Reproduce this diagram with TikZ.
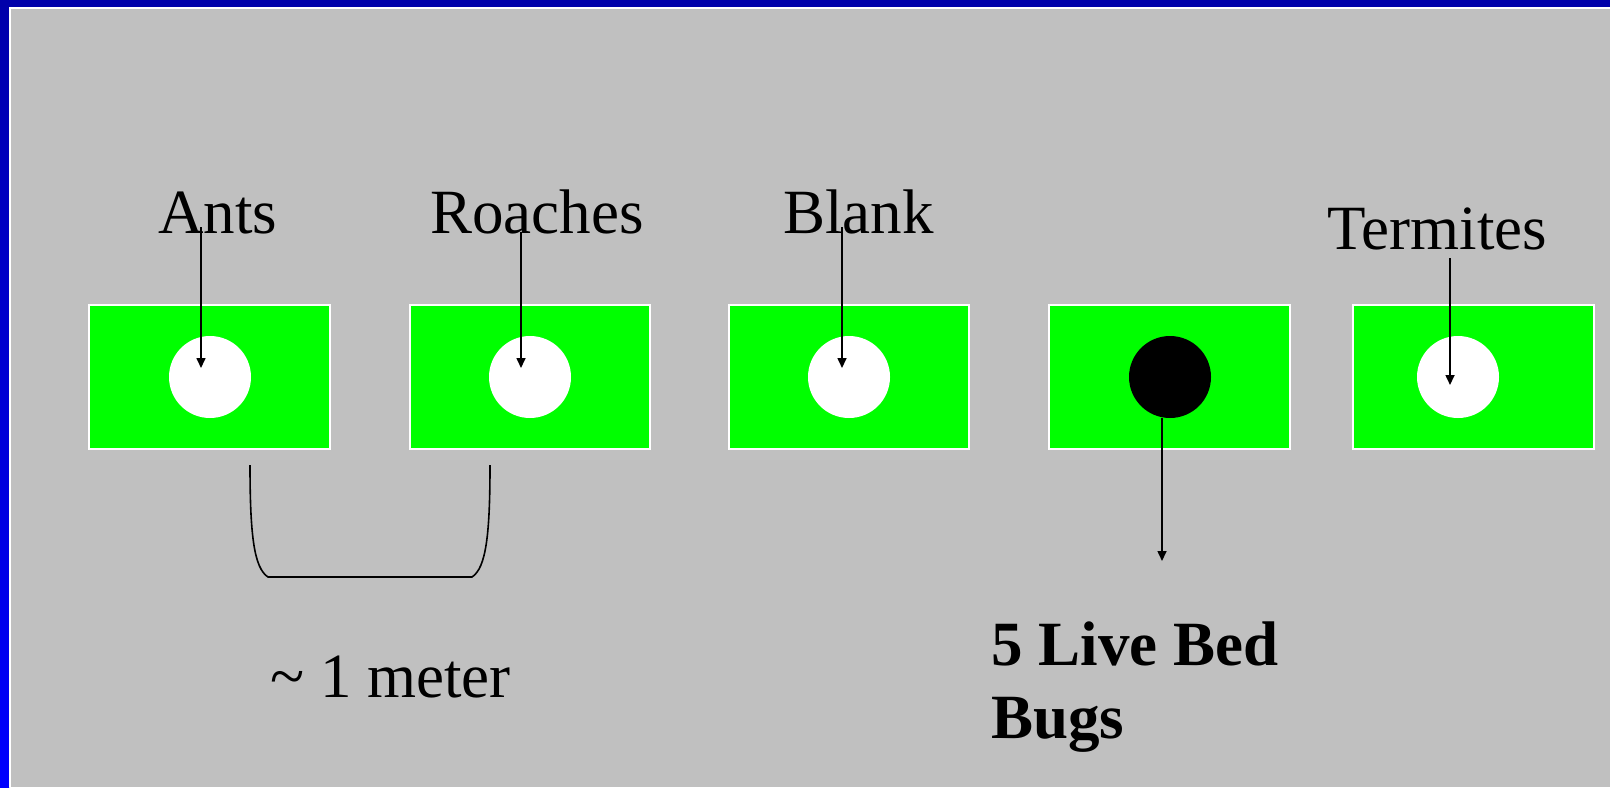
\documentclass[tikz,border=0pt]{standalone}
\usepackage{fontspec}
\setmainfont{Liberation Serif}
\usetikzlibrary{arrows.meta}
\definecolor{bggray}{HTML}{C0C0C0}
\definecolor{darkblue}{HTML}{0000AA}
\definecolor{brightblue}{HTML}{0000FF}
\definecolor{boxgreen}{HTML}{00FF00}
\tikzset{
  dish/.style={draw=white, line width=0.6pt, fill=boxgreen},
  hole/.style={circle, fill=white, minimum size=41pt, inner sep=0pt},
  bughole/.style={circle, fill=black, minimum size=41pt, inner sep=0pt},
  lbl/.style={anchor=base west, inner sep=0pt, font=\fontsize{31.5}{36.5}\selectfont},
  boldlbl/.style={lbl, font=\fontsize{31.5}{36.5}\selectfont\bfseries},
  pointer/.style={line width=0.8pt, -{Triangle[length=5pt,width=4.5pt]}},
  brace/.style={line width=0.8pt}
}
\begin{document}
\begin{tikzpicture}[x=0.5pt,y=-0.5pt]
\useasboundingbox (0,0) rectangle (1610,787);
% background and frame
\fill[bggray] (0,0) rectangle (1610,787);
\shade[top color=darkblue, bottom color=brightblue] (0,0) rectangle (9,787);
\fill[darkblue] (0,0) rectangle (1610,7);
\fill[white] (9,7) rectangle (1610,9);
\fill[white] (9,7) rectangle (11,787);
% dishes
\draw[dish] (89,305) rectangle (330,449);
\draw[dish] (410,305) rectangle (650,449);
\draw[dish] (729,305) rectangle (969,449);
\draw[dish] (1049,305) rectangle (1290,449);
\draw[dish] (1353,305) rectangle (1594,449);
\node[hole] (c1) at (210,377) {};
\node[hole] (c2) at (530,377) {};
\node[hole] (c3) at (849,377) {};
\node[bughole] (c4) at (1170,377) {};
\node[hole] (c5) at (1458,377) {};
% labels
\node[lbl] (ants) at (158,233) {Ants};
\node[lbl] (roaches) at (430,233) {Roaches};
\node[lbl] (blank) at (783,233) {Blank};
\node[lbl] (termites) at (1327,249) {Termites};
\node[lbl] (meter) at (270,697) {\textasciitilde{} 1 meter};
\node[boldlbl] (bugs1) at (991,665) {5 Live Bed};
\node[boldlbl] (bugs2) at (991,738) {Bugs};
% arrow end points
\coordinate (a1s) at (201,227); \coordinate (a1e) at (201,368);
\coordinate (a2s) at (521,232); \coordinate (a2e) at (521,368);
\coordinate (a3s) at (842,227); \coordinate (a3e) at (842,368);
\coordinate (a5s) at (1450,258); \coordinate (a5e) at (1450,385);
\coordinate (a4s) at (1162,418); \coordinate (a4e) at (1162,561);
\draw[pointer] (a1s) -- (a1e);
\draw[pointer] (a2s) -- (a2e);
\draw[pointer] (a3s) -- (a3e);
\draw[pointer] (a5s) -- (a5e);
\draw[pointer] (a4s) -- (a4e);
% distance bracket
\coordinate (bl) at (250,465);
\coordinate (bll) at (268,577);
\coordinate (brr) at (472,577);
\coordinate (br) at (490,465);
\draw[brace] (bl) .. controls (250,535) and (254,568) .. (bll) -- (brr) .. controls (486,568) and (490,535) .. (br);
\end{tikzpicture}
\end{document}
